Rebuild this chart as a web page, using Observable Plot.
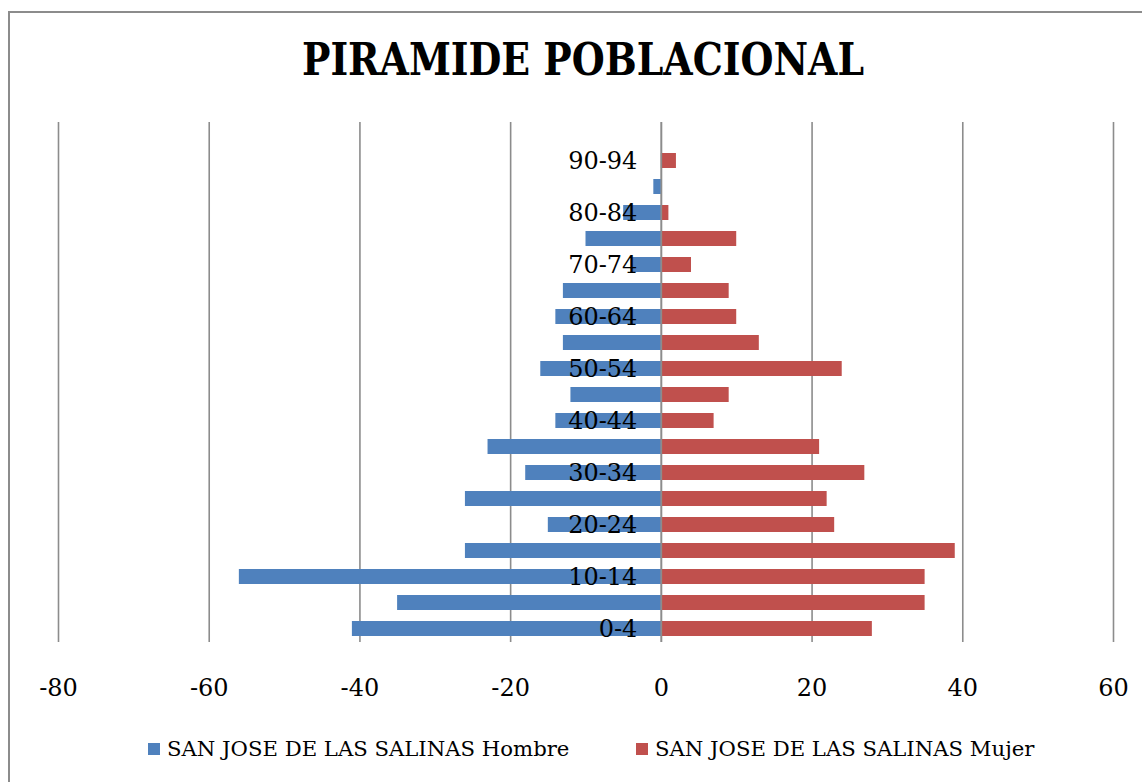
<!DOCTYPE html>
<html>
<head>
<meta charset="utf-8">
<script src="https://cdn.jsdelivr.net/npm/d3@7"></script>
<script src="https://cdn.jsdelivr.net/npm/@observablehq/plot@0.6"></script>
<style>
  html, body { margin: 0; padding: 0; background: #fff; }
  #wrap { position: relative; width: 1142px; height: 782px; overflow: hidden; font-family: "DejaVu Serif", "Liberation Serif", serif; }
  #frame { position: absolute; left: 8px; top: 11px; width: 1200px; height: 900px; border-left: 2px solid #8c8c8c; border-top: 2px solid #8c8c8c; }
  #title { position: absolute; left: 0; top: 34px; width: 1166px; text-align: center; font-family: "DejaVu Serif", serif; font-weight: bold; font-size: 44px; color: #000; transform: scaleX(0.86); transform-origin: 583px 0; }
  #chart { position: absolute; left: 0; top: 100px; }
  #legend { position: absolute; top: 736px; left: 0; width: 1142px; font-size: 21.2px; color: #000; }
  .item { position: absolute; display: flex; align-items: center; white-space: nowrap; }
  .sw { width: 12px; height: 12px; margin-right: 7px; }
</style>
</head>
<body>
<div id="wrap">
  <div id="frame"></div>
  <div id="title">PIRAMIDE POBLACIONAL</div>
  <div id="chart"></div>
  <div id="legend"></div>
</div>
<script>
const ages = ["0-4","5-9","10-14","15-19","20-24","25-29","30-34","35-39","40-44","45-49","50-54","55-59","60-64","65-69","70-74","75-79","80-84","85-89","90-94","95-99"];
const hombre = [41,35,56,26,15,26,18,23,14,12,16,13,14,13,4,10,5,1,0,0];
const mujer  = [28,35,35,39,23,22,27,21,7,9,24,13,10,9,4,10,1,0,2,0];
const labeledAges = ["0-4","10-14","20-24","30-34","40-44","50-54","60-64","70-74","80-84","90-94"];
const xTicks = [-80,-60,-40,-20,0,20,40,60];
const seriesNames = ["SAN JOSE DE LAS SALINAS Hombre","SAN JOSE DE LAS SALINAS Mujer"];
const colors = ["#4F81BD","#C0504D"];

const rows = [];
ages.forEach((a,i) => {
  rows.push({age:a, value:-hombre[i], sex:seriesNames[0]});
  rows.push({age:a, value:mujer[i], sex:seriesNames[1]});
});

const chart = Plot.plot({
  width: 1142,
  height: 610,
  marginLeft: 58,
  marginRight: 29,
  marginTop: 22,
  marginBottom: 68,
  style: {fontFamily: "'DejaVu Serif', serif", fontSize: "24px", color: "#000", background: "transparent"},
  x: {domain: [-80, 60], ticks: xTicks, label: null},
  y: {domain: ages.slice().reverse(), paddingInner: 0.42, paddingOuter: 0.21, axis: null},
  color: {domain: seriesNames, range: colors},
  marks: [
    Plot.ruleX(xTicks, {stroke: "#8c8c8c", strokeWidth: 1.6}),
    Plot.barX(rows, {x: "value", y: "age", fill: "sex"}),
    Plot.ruleX([0], {stroke: "#8c8c8c", strokeWidth: 1.6}),
    Plot.text(labeledAges, {x: () => 0, y: d => d, text: d => d, textAnchor: "end", dx: -24, fontSize: 24, fill: "#000"}),
    Plot.axisX({ticks: xTicks, tickSize: 0, tickPadding: 36, fontSize: 24, label: null, tickFormat: d => d < 0 ? "-" + Math.abs(d) : String(d)})
  ]
});
document.getElementById("chart").appendChild(chart);

const legend = document.getElementById("legend");
const lefts = [148, 636];
seriesNames.forEach((n,i) => {
  const it = document.createElement("div");
  it.className = "item";
  it.style.left = lefts[i] + "px";
  it.innerHTML = `<div class="sw" style="background:${colors[i]}"></div><span>${n}</span>`;
  legend.appendChild(it);
});
</script>
</body>
</html>
